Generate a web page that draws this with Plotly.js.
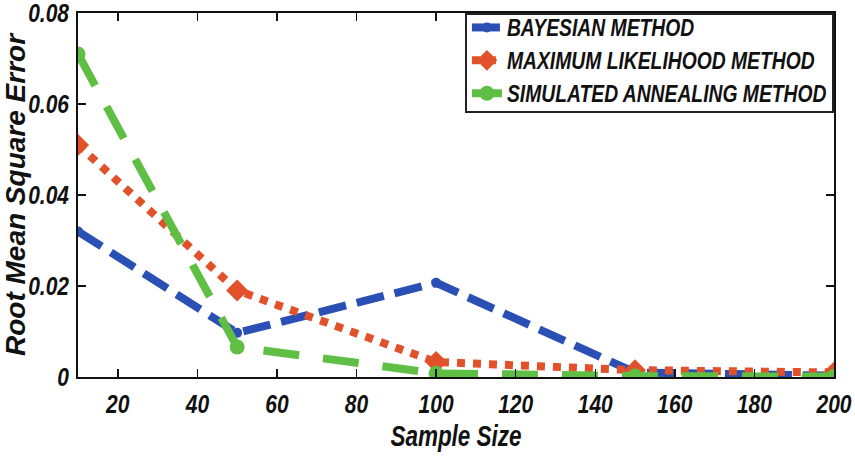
<!DOCTYPE html>
<html>
<head>
<meta charset="utf-8">
<script src="https://cdn.plot.ly/plotly-3.0.1.min.js"></script>
<style>
  html, body { margin: 0; padding: 0; background: #fff; }
  #chart { width: 855px; height: 461px; }
</style>
</head>
<body>
<div id="chart"></div>
<script>
// Sample sizes used in the study
const sampleSize = [10, 50, 100, 150, 200];

// Root mean square error for each estimation method
const rmseBayesian = [0.0320, 0.0097, 0.0207, 0.0010, 0.0003];
const rmseMaxLikelihood = [0.0510, 0.0190, 0.0033, 0.0015, 0.0010];
const rmseSimAnnealing = [0.0710, 0.0066, 0.0008, 0.0002, 0.0001];

const seriesNames = ['BAYESIAN METHOD', 'MAXIMUM LIKELIHOOD METHOD', 'SIMULATED ANNEALING METHOD'];

const xTicks = [20, 40, 60, 80, 100, 120, 140, 160, 180, 200];
const yTicks = [0, 0.02, 0.04, 0.06, 0.08];
const yTickText = ['0', '0.02', '0.04', '0.06', '0.08'];

const FONT = 'Liberation Sans, Arial, sans-serif';
const boldItalic = (size) => ({ family: FONT, size: size, color: '#111', weight: 'bold', style: 'italic' });

const traces = [
  {
    x: sampleSize, y: rmseBayesian, name: seriesNames[0],
    mode: 'lines+markers',
    line: { color: '#2a4fb5', width: 8, dash: '28px,11px' },
    marker: { symbol: 'circle', size: 10, color: '#2a4fb5' }
  },
  {
    x: sampleSize, y: rmseMaxLikelihood, name: seriesNames[1],
    mode: 'lines+markers',
    line: { color: '#e2522a', width: 8, dash: '8px,8px' },
    marker: { symbol: 'diamond', size: 17, color: '#e2522a' }
  },
  {
    x: sampleSize, y: rmseSimAnnealing, name: seriesNames[2],
    mode: 'lines+markers',
    line: { color: '#5fbf45', width: 8, dash: '36px,24px' },
    marker: { symbol: 'circle', size: 15, color: '#5fbf45' }
  }
];

const axisCommon = {
  showline: true, linecolor: '#111', linewidth: 2, mirror: 'ticks',
  ticks: 'inside', ticklen: 8, tickwidth: 1.5, tickcolor: '#111',
  showgrid: false, zeroline: false, ticklabeloverflow: 'allow',
  tickfont: boldItalic(25)
};

const layout = {
  width: 855, height: 461,
  margin: { l: 78, r: 21, t: 13, b: 84 },
  paper_bgcolor: '#fff', plot_bgcolor: '#fff',
  showlegend: true,
  legend: {
    x: 1, xanchor: 'right', y: 1, yanchor: 'top',
    bgcolor: '#fff', bordercolor: '#222', borderwidth: 2,
    font: boldItalic(23), itemwidth: 30, tracegroupgap: 0
  },
  xaxis: Object.assign({}, axisCommon, {
    range: [10, 200], tickvals: xTicks, ticklabelstandoff: 4,
    title: { text: 'Sample Size', font: boldItalic(30), standoff: 8 }
  }),
  yaxis: Object.assign({}, axisCommon, {
    range: [0, 0.08], tickvals: yTicks, ticktext: yTickText, ticklabelstandoff: 2,
    title: { text: 'Root Mean Square Error', font: boldItalic(28), standoff: 0 }
  })
};

// Horizontal labels are set in a condensed face: scale each text element
// horizontally about its own anchor point. Returns the width saved by the widest.
function condense(nodes, ratio) {
  let saved = 0;
  nodes.forEach(t => {
    const len = t.getComputedTextLength();
    saved = Math.max(saved, len * (1 - ratio));
    const ax = parseFloat(t.getAttribute('x') || 0);
    const base = t.getAttribute('transform') || '';
    t.setAttribute('transform',
      `${base} translate(${ax},0) scale(${ratio},1) translate(${-ax},0)`.trim());
  });
  return saved;
}

function translateOf(el) {
  const m = /translate\(([-\d.]+)[ ,]*([-\d.]*)\)/.exec(el.getAttribute('transform') || '');
  return m ? [parseFloat(m[1]), parseFloat(m[2] || 0)] : [0, 0];
}

Plotly.newPlot('chart', traces, layout, { displayModeBar: false, staticPlot: true }).then(gd => {
  condense(gd.querySelectorAll('.xtick text, .ytick text'), 0.84);
  condense(gd.querySelectorAll('.g-xtitle text'), 0.75);

  // Legend: condense entries, then tighten the box and keep it right-aligned.
  const legend = gd.querySelector('g.legend');
  const shrink = condense(legend.querySelectorAll('text.legendtext'), 0.84);
  const bg = legend.querySelector('rect.bg');
  const lift = 9;
  bg.setAttribute('width', (parseFloat(bg.getAttribute('width')) - shrink).toFixed(1));
  bg.setAttribute('height', (parseFloat(bg.getAttribute('height')) - lift - 4).toFixed(1));
  const [lx, ly] = translateOf(legend);
  legend.setAttribute('transform', `translate(${lx + shrink},${ly})`);
  const box = legend.querySelector('g.scrollbox');
  const [bx, by] = translateOf(box);
  box.setAttribute('transform', `translate(${bx},${by - lift})`);
});
</script>
</body>
</html>
